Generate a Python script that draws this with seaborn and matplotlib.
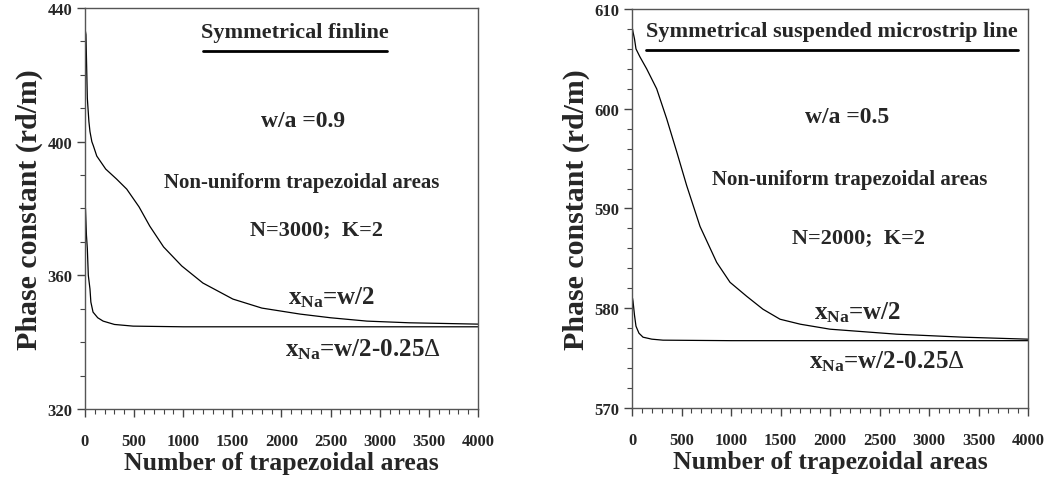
import matplotlib
matplotlib.use("Agg")
import matplotlib.pyplot as plt
import seaborn as sns
import pandas as pd
from matplotlib.ticker import MultipleLocator

# ---- data ----
fin_x_upper = [5, 10, 24, 40, 51, 70, 85, 120, 211, 322, 425, 550, 660, 800, 985, 1200, 1505, 1800, 2190, 2500, 2870, 3300, 4000]
fin_y_upper = [433, 432, 413, 406, 403, 400, 398.8, 395.7, 391.8, 388.8, 385.8, 380.5, 374.7, 368.5, 362.8, 357.7, 352.9, 350.2, 348.4, 347.3, 346.3, 345.8, 345.4]
fin_x_lower = [5, 15, 24, 34, 51, 60, 82, 130, 185, 300, 490, 1000, 4000]
fin_y_lower = [380, 372, 368, 360, 355.9, 352, 349, 347.3, 346.3, 345.3, 344.8, 344.6, 344.6]

sus_x_upper = [5, 10, 25, 40, 80, 148, 249, 350, 451, 552, 687, 855, 990, 1158, 1323, 1495, 1700, 2000, 2673, 3343, 4000]
sus_y_upper = [608, 607.7, 607, 606, 605.2, 604, 602, 599, 595.7, 592.3, 588.2, 584.6, 582.6, 581.2, 579.9, 578.9, 578.4, 577.9, 577.4, 577.1, 576.9]
sus_x_lower = [5, 10, 25, 40, 70, 111, 200, 313, 1000, 4000]
sus_y_lower = [581, 580.7, 579.3, 578.2, 577.5, 577.1, 576.9, 576.8, 576.75, 576.75]

x_ticks = [0, 500, 1000, 1500, 2000, 2500, 3000, 3500, 4000]
fin_y_ticks = [320, 360, 400, 440]
sus_y_ticks = [570, 580, 590, 600, 610]

sns.set_theme(style="ticks")
plt.rcParams['font.family'] = ['Liberation Serif', 'DejaVu Serif']
plt.rcParams['font.weight'] = 'bold'
plt.rcParams['mathtext.fontset'] = 'custom'
plt.rcParams['mathtext.rm'] = 'Liberation Serif:bold'
plt.rcParams['mathtext.bf'] = 'Liberation Serif:bold'
plt.rcParams['mathtext.it'] = 'Liberation Serif:bold'
plt.rcParams['mathtext.sf'] = 'Liberation Serif:weight=normal'

fig = plt.figure(figsize=(10.49, 4.81), dpi=100)
ax1 = fig.add_axes([0.081, 0.1476, 0.3747, 0.8337])
ax2 = fig.add_axes([0.6025, 0.1497, 0.3775, 0.8295])

def draw(ax, xu, yu, xl, yl):
    du = pd.DataFrame({"n": xu, "beta": yu})
    dl = pd.DataFrame({"n": xl, "beta": yl})
    sns.lineplot(data=du, x="n", y="beta", ax=ax, color="black", linewidth=0.9, sort=False)
    sns.lineplot(data=dl, x="n", y="beta", ax=ax, color="black", linewidth=0.9, sort=False)

draw(ax1, fin_x_upper, fin_y_upper, fin_x_lower, fin_y_lower)
draw(ax2, sus_x_upper, sus_y_upper, sus_x_lower, sus_y_lower)

for ax, yt, ymin, ymax, yminor in [(ax1, fin_y_ticks, 320, 440, 10), (ax2, sus_y_ticks, 570, 610, 2)]:
    ax.set_xlim(0, 4000)
    ax.set_ylim(ymin, ymax)
    ax.set_xticks(x_ticks)
    ax.set_yticks(yt)
    ax.xaxis.set_minor_locator(MultipleLocator(100))
    ax.yaxis.set_minor_locator(MultipleLocator(yminor))
    ax.tick_params(axis='both', which='major', length=6, width=1, color='#444444', labelsize=12, pad=3)
    ax.tick_params(axis='both', which='minor', length=3.5, width=0.8, color='#444444')
    ax.tick_params(axis='x', pad=11)
    for lab in ax.get_xticklabels() + ax.get_yticklabels():
        lab.set_fontweight('bold')
    for s in ax.spines.values():
        s.set_visible(True)
        s.set_color('#555555')
        s.set_linewidth(1.0)
    ax.set_xlabel("Number of trapezoidal areas", fontsize=18.5, fontweight='bold', labelpad=2)
    ax.set_ylabel("Phase constant (rd/m)", fontsize=21.5, fontweight='bold', labelpad=3)

def place(px, py, s, size):
    x, y = fig.transFigure.inverted().transform((px, 481 - py))
    fig.text(x, y, s, ha='center', va='center', fontsize=size, fontweight='bold')

# left panel texts
place(295, 33, "Symmetrical finline", 16)
fig.add_artist(plt.Line2D([203/1049, 387/1049], [1-52/481, 1-52/481], color='black', linewidth=2))
place(303, 122, "w/a =0.9", 17)
place(302, 183, "Non-uniform trapezoidal areas", 15)
place(317, 230, "N=3000;  K=2", 16)
place(332, 298, r"$\mathregular{x_{Na}}$=w/2", 18)
place(363, 350, r"$\mathregular{x_{Na}}$=w/2-0.25$\mathsf{Δ}$", 18)

# right panel texts
place(832, 32, "Symmetrical suspended microstrip line", 16)
fig.add_artist(plt.Line2D([646/1049, 1018/1049], [1-51/481, 1-51/481], color='black', linewidth=2))
place(847, 118, "w/a =0.5", 17)
place(850, 180, "Non-uniform trapezoidal areas", 15)
place(858, 238, "N=2000;  K=2", 16)
place(858, 313, r"$\mathregular{x_{Na}}$=w/2", 18)
place(887, 362, r"$\mathregular{x_{Na}}$=w/2-0.25$\mathsf{Δ}$", 18)

fig.savefig("out.png", dpi=100)
